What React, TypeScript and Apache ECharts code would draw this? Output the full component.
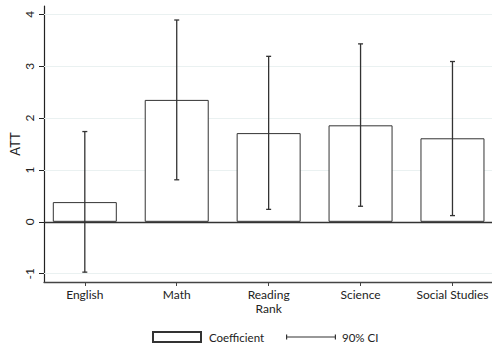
import React, { useEffect, useRef } from "react";
import * as echarts from "echarts";

const categories = ["English", "Math", "Reading\nRank", "Science", "Social Studies"];
const coefficients = [0.38, 2.35, 1.71, 1.86, 1.61];
const ciLow = [-0.97, 0.81, 0.24, 0.3, 0.12];
const ciHigh = [1.74, 3.89, 3.19, 3.43, 3.09];
const yTicks = [-1, 0, 1, 2, 3, 4];
const gridTicks = [-1, 1, 2, 3, 4];

const FONT = "Lato";
const TEXT = "#222";

export default function App() {
  const ref = useRef<HTMLDivElement>(null);
  useEffect(() => {
    if (!ref.current) return;
    const chart = echarts.init(ref.current, undefined, { renderer: "svg" });
    const idx = categories.map((_, i) => i);
    chart.setOption({
      animation: false,
      backgroundColor: "#fff",
      textStyle: { fontFamily: FONT, color: TEXT },
      grid: { left: 44, right: 0, top: 6, bottom: 62, containLabel: false, outerBoundsMode: "none" },
      legend: [
        {
          data: [{ name: "Coefficient", icon: "rect" }],
          left: 152,
          top: 331,
          padding: 0,
          itemWidth: 48,
          itemHeight: 10,
          textStyle: { fontFamily: FONT, fontSize: 11.5, color: TEXT, padding: [0, 0, 0, 3] },
          selectedMode: false,
        },
        {
          data: [
            {
              name: "90% CI",
              icon: "path://M0,0h1.2v5h-1.2z M0,1.9h50v1.2h-50z M48.8,0h1.2v5h-1.2z",
            },
          ],
          left: 286,
          top: 331,
          padding: 0,
          itemWidth: 50,
          itemHeight: 5,
          symbolKeepAspect: false,
          textStyle: { fontFamily: FONT, fontSize: 11.5, color: TEXT, padding: [0, 0, 0, 1] },
          selectedMode: false,
        },
      ],
      xAxis: {
        type: "value",
        min: -0.444,
        max: 4.43,
        splitLine: { show: false },
        axisLine: { onZero: false, lineStyle: { color: "#444", width: 1.3 } },
        axisTick: { show: true, length: 4, customValues: idx, lineStyle: { color: "#444" } },
        axisLabel: {
          customValues: idx,
          formatter: (v: number) => categories[Math.round(v)] ?? "",
          fontFamily: FONT,
          fontSize: 12,
          color: TEXT,
          margin: 5,
          lineHeight: 14,
        },
      },
      yAxis: {
        type: "value",
        min: -1.16,
        max: 4.16,
        name: "ATT",
        nameLocation: "middle",
        nameRotate: 90,
        nameGap: 23,
        nameMoveOverlap: false,
        nameTextStyle: { fontFamily: FONT, fontSize: 13, color: TEXT },
        splitLine: { show: false },
        axisLine: { show: true, onZero: false, lineStyle: { color: "#222", width: 1.2 } },
        axisTick: { show: true, length: 5, customValues: yTicks, lineStyle: { color: "#222" } },
        axisLabel: {
          customValues: yTicks,
          rotate: 90,
          fontFamily: FONT,
          fontSize: 12,
          color: TEXT,
          margin: 9,
        },
      },
      series: [
        {
          name: "Coefficient",
          type: "bar",
          barWidth: 64,
          data: coefficients.map((v, i) => [i, v]),
          itemStyle: { color: "#fff", borderColor: "#333", borderWidth: 1 },
          z: 3,
          markLine: {
            silent: true,
            symbol: "none",
            label: { show: false },
            z: 1,
            data: [
              ...gridTicks.map((t) => ({ yAxis: t, lineStyle: { color: "#eaf1f1", width: 1.2, type: "solid" } })),
            ],
          },
        },
        {
          name: "zero",
          type: "line",
          data: [],
          markLine: {
            silent: true,
            symbol: "none",
            label: { show: false },
            data: [{ yAxis: 0, lineStyle: { color: "#333", width: 1.3, type: "solid" } }],
          },
          z: 4,
        },
        {
          name: "90% CI",
          type: "custom",
          itemStyle: { color: "#333" },
          z: 5,
          data: ciLow.map((lo, i) => [i, lo, ciHigh[i]]),
          renderItem: (params: any, api: any) => {
            const x = api.value(0);
            const lo = api.coord([x, api.value(1)]);
            const hi = api.coord([x, api.value(2)]);
            const style = { stroke: "#333", lineWidth: 1.3 };
            const cap = 2.5;
            return {
              type: "group",
              children: [
                { type: "line", shape: { x1: lo[0], y1: lo[1], x2: hi[0], y2: hi[1] }, style },
                { type: "line", shape: { x1: lo[0] - cap, y1: lo[1], x2: lo[0] + cap, y2: lo[1] }, style },
                { type: "line", shape: { x1: hi[0] - cap, y1: hi[1], x2: hi[0] + cap, y2: hi[1] }, style },
              ],
            };
          },
        },
      ],
    });
    return () => chart.dispose();
  }, []);
  return <div ref={ref} style={{ width: 492, height: 344, position: "absolute", left: 0, top: 0 }} />;
}
